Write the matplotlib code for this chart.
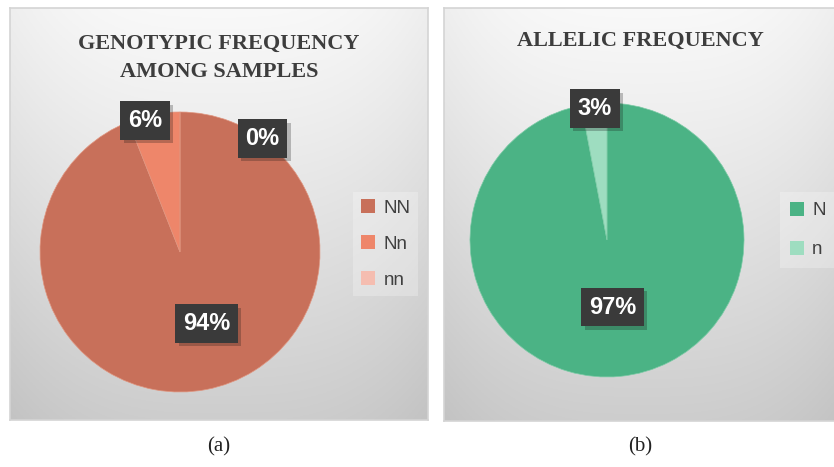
import numpy as np
import matplotlib
matplotlib.use("Agg")
import matplotlib.pyplot as plt
import matplotlib.patheffects as pe
from matplotlib.patches import Patch

# ---- data ----
geno_labels = ["NN", "Nn", "nn"]
geno_values = [94, 6, 0]
geno_colors = ["#C8705A", "#EE866A", "#F5BDB0"]

allele_labels = ["N", "n"]
allele_values = [97, 3]
allele_colors = ["#4BB385", "#9EDDC0"]

title_a = "GENOTYPIC FREQUENCY\nAMONG SAMPLES"
title_b = "ALLELIC FREQUENCY"
caption_a = "(a)"
caption_b = "(b)"

W, H = 834, 467
fig = plt.figure(figsize=(W / 100, H / 100), dpi=100)
fig.patch.set_facecolor("white")


def px(x0, y0, x1, y1):
    return [x0 / W, 1 - y1 / H, (x1 - x0) / W, (y1 - y0) / H]


def panel(rect):
    ax = fig.add_axes(px(*rect))
    grad = np.linspace(0, 1, 256)[:, None]
    cols = np.linspace(0, 1, 128)[None, :]
    edge = (np.abs(cols - 0.5) * 2) ** 3 * 0.04
    val = 0.975 - 0.17 * grad ** 1.1 - edge
    img = np.dstack([val, val, val])
    ax.imshow(img, aspect="auto", extent=[0, 1, 0, 1], origin="upper")
    ax.set_xticks([])
    ax.set_yticks([])
    for s in ax.spines.values():
        s.set_color("#d4d4d4")
        s.set_linewidth(1.2)
    return ax


panel((10, 8, 428, 420))
panel((444, 8, 840, 421))


def label_box(ax, x, y, text):
    t = ax.text(x, y, text, ha="center", va="center", color="white",
                fontsize=17, fontweight="bold", family="Liberation Sans",
                bbox=dict(boxstyle="square,pad=0.33", facecolor="#3a3a3a",
                          edgecolor="none"), zorder=5)
    t.get_bbox_patch().set_path_effects(
        [pe.SimplePatchShadow(offset=(2.5, -2.5), alpha=0.25), pe.Normal()])
    return t


# ---- pie a ----
axa = fig.add_axes(px(40, 112, 320, 392))
axa.pie(geno_values, colors=geno_colors, startangle=90, counterclock=False,
        radius=1, wedgeprops=dict(linewidth=0.5, edgecolor="#E0957F"))
axa.set_xlim(-1, 1)
axa.set_ylim(-1, 1)
axa.set_aspect("equal")
axa.axis("off")
label_box(axa, -0.25, 0.94, f"{geno_values[1]}%")
label_box(axa, 0.59, 0.81, f"{geno_values[2]}%")
label_box(axa, 0.19, -0.51, f"{geno_values[0]}%")

fig.text(219 / W, 1 - 58 / H, title_a, ha="center", va="center",
         family="Liberation Serif", fontweight="bold", fontsize=16,
         color="#3d3d3d", linespacing=1.55)

axa.legend(handles=[Patch(facecolor=c, label=l) for c, l in zip(geno_colors, geno_labels)],
           loc="center left", bbox_to_anchor=(344 / W, 1 - 244 / H),
           bbox_transform=fig.transFigure, frameon=True, fancybox=False,
           facecolor="white", framealpha=0.25, edgecolor="none",
           prop=dict(family="Liberation Sans", size=13.5), labelcolor="#404040",
           handlelength=0.75, handleheight=0.75, handletextpad=0.45,
           labelspacing=1.0, borderpad=0.4)

# ---- pie b ----
axb = fig.add_axes(px(470, 103, 744, 377))
axb.pie(allele_values, colors=allele_colors, startangle=90, counterclock=False,
        radius=1, wedgeprops=dict(linewidth=0.5, edgecolor="#7CCBA6"))
axb.set_xlim(-1, 1)
axb.set_ylim(-1, 1)
axb.set_aspect("equal")
axb.axis("off")
label_box(axb, -0.09, 0.96, f"{allele_values[1]}%")
label_box(axb, 0.04, -0.49, f"{allele_values[0]}%")

fig.text(640 / W, 1 - 41 / H, title_b, ha="center", va="center",
         family="Liberation Serif", fontweight="bold", fontsize=16,
         color="#3d3d3d")

axb.legend(handles=[Patch(facecolor=c, label=l) for c, l in zip(allele_colors, allele_labels)],
           loc="center left", bbox_to_anchor=(771 / W, 1 - 230 / H),
           bbox_transform=fig.transFigure, frameon=True, fancybox=False,
           facecolor="white", framealpha=0.25, edgecolor="none",
           prop=dict(family="Liberation Sans", size=13.5), labelcolor="#404040",
           handlelength=0.75, handleheight=0.75, handletextpad=0.45,
           labelspacing=1.15, borderpad=0.5)

fig.text(219 / W, 1 - 447 / H, caption_a, ha="center", va="center",
         family="Liberation Serif", fontsize=15, color="#222222")
fig.text(640 / W, 1 - 447 / H, caption_b, ha="center", va="center",
         family="Liberation Serif", fontsize=15, color="#222222")

fig.savefig("out.png", dpi=100, facecolor="white")
